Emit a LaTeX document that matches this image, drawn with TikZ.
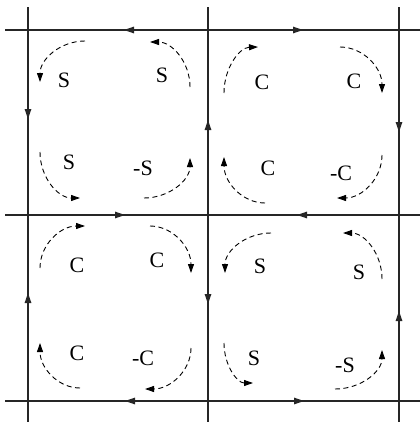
\documentclass[tikz,border=0pt]{standalone}
\usepackage{fontspec}
\setmainfont{Liberation Serif}
\usetikzlibrary{arrows.meta,calc}
\newcommand\farc[3]{\draw[flow] (#1) .. controls ($(#1)!0.552!(#2)$) and ($(#3)!0.552!(#2)$) .. (#3);}
\begin{document}
\begin{tikzpicture}[x=1pt,y=-1pt,
  grid/.style={line width=1.3pt, draw=black!85},
  gridarr/.style={grid, -{Triangle[length=10pt,width=6.5pt]}},
  flow/.style={line width=0.9pt, dash pattern=on 5pt off 3.5pt, -{Triangle[length=9pt,width=6pt]}},
  lab/.style={font=\fontsize{22}{22}\selectfont, inner sep=0pt, anchor=center}]
\useasboundingbox (0,0) rectangle (420,423);
% frame ends
\coordinate (T0) at (28,7);  \coordinate (T1) at (208,7);  \coordinate (T2) at (399,7);
\coordinate (B0) at (28,422); \coordinate (B1) at (208,422); \coordinate (B2) at (399,422);
\coordinate (L0) at (5,30);  \coordinate (L1) at (5,215);  \coordinate (L2) at (5,401);
\coordinate (R0) at (420,30); \coordinate (R1) at (420,215); \coordinate (R2) at (420,401);
% grid points
\coordinate (p00) at (28,30);  \coordinate (p10) at (208,30);  \coordinate (p20) at (399,30);
\coordinate (p01) at (28,215); \coordinate (p11) at (208,215); \coordinate (p21) at (399,215);
\coordinate (p02) at (28,401); \coordinate (p12) at (208,401); \coordinate (p22) at (399,401);
% lines
\draw[grid] (T0) -- (B0);
\draw[grid] (T1) -- (B1);
\draw[grid] (T2) -- (B2);
\draw[grid] (L0) -- (R0);
\draw[grid] (L1) -- (R1);
\draw[grid] (L2) -- (R2);
% arrow tips on lines
\coordinate (a1) at (124,30);  \draw[gridarr] (p10) -- (a1);
\coordinate (a2) at (303,30);  \draw[gridarr] (p10) -- (a2);
\coordinate (a3) at (28,119);  \draw[gridarr] (p00) -- (a3);
\coordinate (a4) at (28,293);  \draw[gridarr] (p02) -- (a4);
\coordinate (a5) at (208,120); \draw[gridarr] (p11) -- (a5);
\coordinate (a6) at (208,304); \draw[gridarr] (p11) -- (a6);
\coordinate (a7) at (399,132); \draw[gridarr] (p20) -- (a7);
\coordinate (a8) at (399,311); \draw[gridarr] (p22) -- (a8);
\coordinate (a9) at (125,215); \draw[gridarr] (p01) -- (a9);
\coordinate (a10) at (297,215); \draw[gridarr] (p21) -- (a10);
\coordinate (a11) at (125,401); \draw[gridarr] (p12) -- (a11);
\coordinate (a12) at (304,401); \draw[gridarr] (p12) -- (a12);
% top-left cell
\farc{85,41}{40,41}{40,82}
\farc{190,87}{190,42}{150,42}
\farc{40,152}{40,198}{80,198}
\farc{144,198}{190,198}{190,158}
\node[lab] (s1) at (64,80) {S};
\node[lab] (s2) at (162,75) {S};
\node[lab] (s3) at (69,162) {S};
\node[lab] (s4) at (143,168) {-S};
% top-right cell
\farc{224,93}{224,48}{258,47}
\farc{340,47}{382,47}{382,93}
\farc{265,203}{224,203}{224,157}
\farc{382,155}{382,198}{337,198}
\node[lab] (c1) at (262,82) {C};
\node[lab] (c2) at (354,81) {C};
\node[lab] (c3) at (268,168) {C};
\node[lab] (c4) at (341,173) {-C};
% bottom-left cell
\farc{40,268}{40,226}{85,226}
\farc{150,226}{191,226}{191,273}
\farc{80,388}{40,388}{40,343}
\farc{191,348}{191,389}{145,389}
\node[lab] (c5) at (77,265) {C};
\node[lab] (c6) at (157,260) {C};
\node[lab] (c7) at (77,353) {C};
\node[lab] (c8) at (143,358) {-C};
% bottom-right cell
\farc{271,233}{225,233}{225,273}
\farc{382,279}{382,233}{343,233}
\farc{224,343}{224,383}{253,383}
\farc{335,389}{382,389}{382,350}
\node[lab] (s5) at (260,266) {S};
\node[lab] (s6) at (359,272) {S};
\node[lab] (s7) at (254,358) {S};
\node[lab] (s8) at (345,365) {-S};
\end{tikzpicture}
\end{document}
